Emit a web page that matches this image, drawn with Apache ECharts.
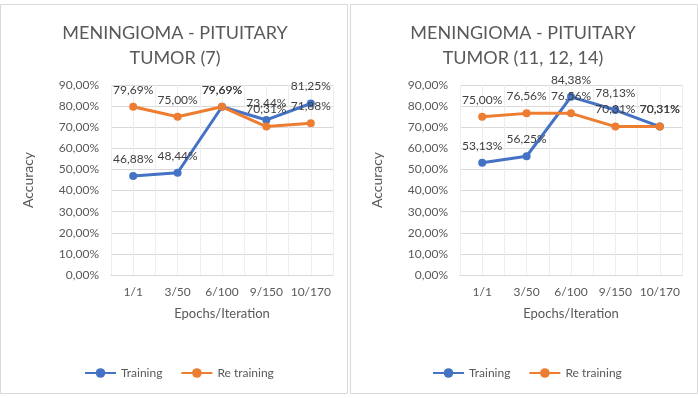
<!DOCTYPE html>
<html>
<head>
<meta charset="utf-8">
<script src="https://cdn.jsdelivr.net/npm/echarts@6/dist/echarts.min.js"></script>
<style>
  html, body { margin: 0; padding: 0; background: #fff; }
  #chart { width: 698px; height: 398px; }
</style>
</head>
<body>
<div id="chart"></div>
<script>
var categories = ['1/1', '3/50', '6/100', '9/150', '10/170']
var titles = ['MENINGIOMA - PITUITARY\nTUMOR (7)', 'MENINGIOMA - PITUITARY\nTUMOR (11, 12, 14)']
var training7 = [46.88, 48.44, 79.69, 73.44, 81.25]
var retraining7 = [79.69, 75.00, 79.69, 70.31, 71.88]
var training11 = [53.13, 56.25, 84.38, 78.13, 70.31]
var retraining11 = [75.00, 76.56, 76.56, 70.31, 70.31]

var font = 'Lato, "Open Sans", sans-serif'
var gray = '#595959'
var gridColor = '#d9d9d9'
var pct = function (v) { return v.toFixed(2).replace('.', ',') + '%' }

var myChart = echarts.init(document.getElementById('chart'))

// one panel = grid + category axis + hidden value axis (half-step vertical lines) + y axis
var panels = [
  { left: 111, cx: 174, boxX: 0.5, train: training7, re: retraining7 },
  { left: 460, cx: 522, boxX: 350.5, train: training11, re: retraining11 }
]

var grids = [], xAxes = [], yAxes = [], series = [], titleList = [], legends = [], graphics = []
panels.forEach(function (p, i) {
  grids.push({ left: p.left, top: 85, width: 222, height: 190 })
  titleList.push({
    text: titles[i], left: p.cx - 4, top: 16, textAlign: 'center',
    textStyle: { fontFamily: font, fontSize: 18, fontWeight: 'normal', color: gray, lineHeight: 25 }
  })
  xAxes.push({
    type: 'category', gridIndex: i, data: categories, boundaryGap: true,
    name: 'Epochs/Iteration', nameLocation: 'middle', nameGap: 32,
    nameTextStyle: { fontFamily: font, fontSize: 13, color: gray },
    axisLine: { lineStyle: { color: gridColor } },
    axisTick: { show: false },
    axisLabel: { interval: 0, fontFamily: font, fontSize: 12, color: gray, margin: 11 },
    splitLine: { show: false }
  })
  xAxes.push({
    type: 'value', gridIndex: i, min: 0, max: 10, interval: 1,
    axisLine: { show: false }, axisTick: { show: false }, axisLabel: { show: false },
    splitLine: { show: true, lineStyle: { color: '#eeeeee' } }
  })
  yAxes.push({
    type: 'value', gridIndex: i, min: 0, max: 90, interval: 10,
    name: 'Accuracy', nameLocation: 'middle', nameGap: 76,
    nameTextStyle: { fontFamily: font, fontSize: 14, color: gray },
    axisLine: { show: false }, axisTick: { show: false },
    axisLabel: { fontFamily: font, fontSize: 12, color: gray, margin: 12, formatter: pct },
    splitLine: { lineStyle: { color: gridColor } }
  })
  var lbl = { show: true, position: 'top', distance: 7, fontFamily: font, fontSize: 12, color: '#404040',
    formatter: function (d) { return pct(d.value) } }
  series.push({
    name: 'Training', type: 'line', xAxisIndex: i * 2, yAxisIndex: i, data: p.train,
    symbol: 'circle', symbolSize: 8, color: '#4472C4', lineStyle: { width: 3 }, label: lbl
  })
  series.push({
    name: 'Re training', type: 'line', xAxisIndex: i * 2, yAxisIndex: i, data: p.re,
    symbol: 'circle', symbolSize: 8, color: '#ED7D31', lineStyle: { width: 3 }, label: lbl
  })
  legends.push({
    data: ['Training', 'Re training'], left: p.cx - 95, top: 362, orient: 'horizontal',
    itemWidth: 31, itemHeight: 12, itemGap: 18, selectedMode: false,
    textStyle: { fontFamily: font, fontSize: 12, color: gray }
  })
  graphics.push({
    type: 'rect', shape: { x: p.boxX, y: 4.5, width: 347, height: 389 },
    style: { fill: 'none', stroke: gridColor, lineWidth: 1 }, silent: true, z: -10
  })
})

var option = {
  animation: false,
  title: titleList,
  legend: legends,
  grid: grids,
  xAxis: xAxes,
  yAxis: yAxes,
  series: series,
  graphic: graphics
}
option && myChart.setOption(option)
</script>
</body>
</html>
